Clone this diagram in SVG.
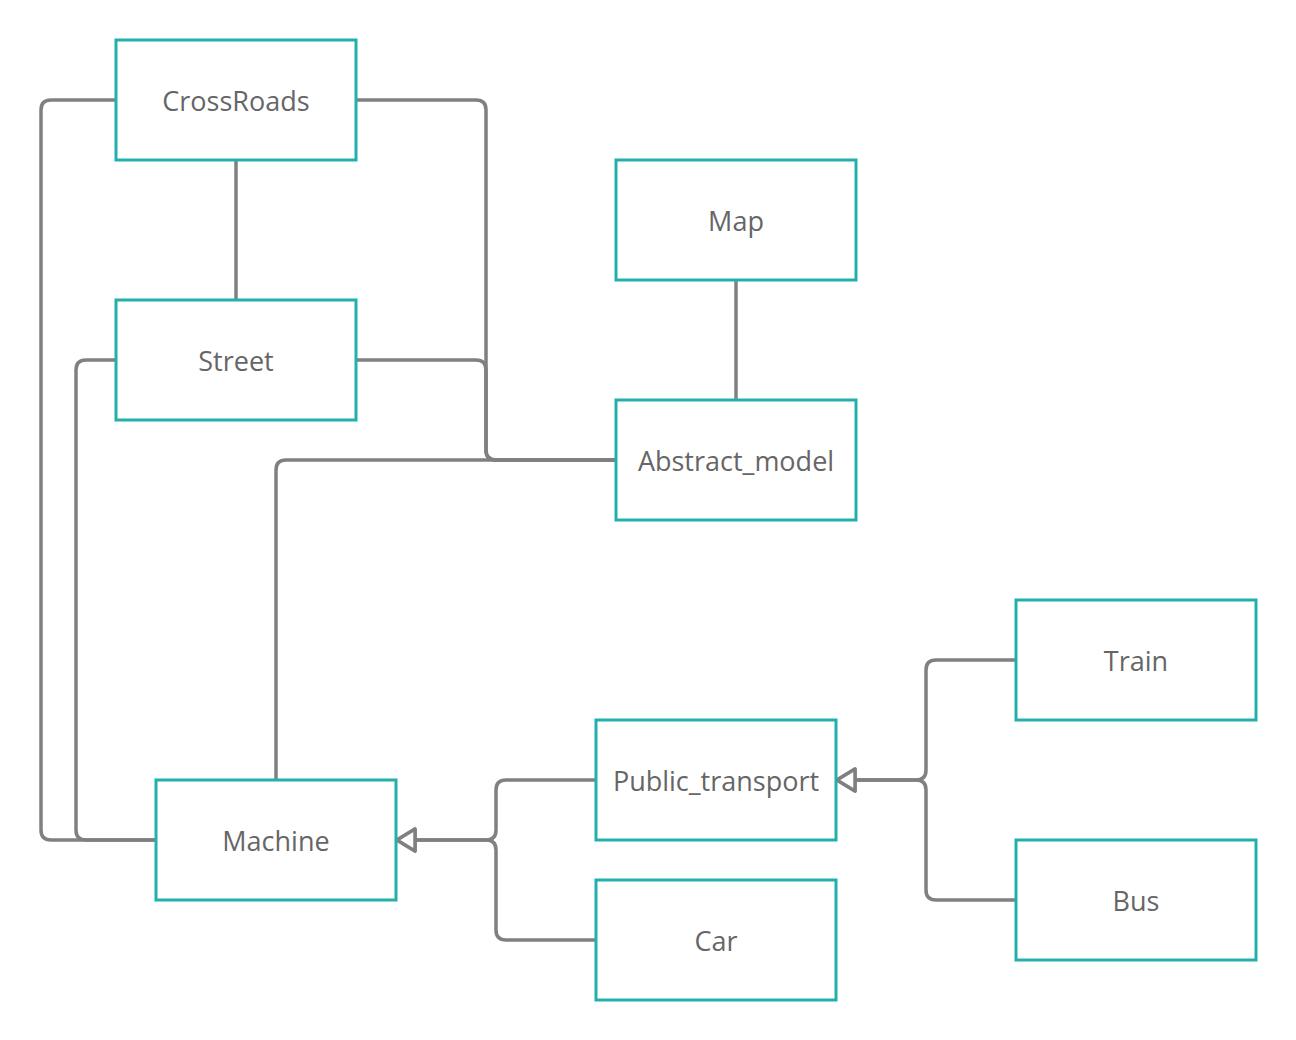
<svg xmlns="http://www.w3.org/2000/svg" width="1296" height="1040" viewBox="0 0 1296 1040">
<style>
.box{fill:#fff;stroke:#22b0ac;stroke-width:3}
.lbl{font-family:"Open Sans",sans-serif;font-size:27px;fill:#666;text-anchor:middle}
.c{fill:none;stroke:#808080;stroke-width:3.5;stroke-linejoin:round}
</style>
<defs>
<marker id="tri" markerUnits="userSpaceOnUse" markerWidth="28" markerHeight="28" refX="24" refY="14" orient="auto" viewBox="0 0 28 28">
<path d="M24,14 L6,3 L6,25 Z" fill="#fff" stroke="#808080" stroke-width="3.5" stroke-linejoin="round"/>
</marker>
</defs>
<rect width="1296" height="1040" fill="#fff"/>
<g id="connectors">
<path class="c" d="M116,100 H51 Q41,100 41,110 V830 Q41,840 51,840 H156"/>
<path class="c" d="M116,360 H86 Q76,360 76,370 V830 Q76,840 86,840 H156"/>
<path class="c" d="M356,100 H476 Q486,100 486,110 V450 Q486,460 496,460 H616"/>
<path class="c" d="M356,360 H476 Q486,360 486,370 V450 Q486,460 496,460 H616"/>
<path class="c" d="M276,780 V470 Q276,460 286,460 H616"/>
<path class="c" d="M236,160 V300"/>
<path class="c" d="M736,280 V400"/>
<path class="c" d="M596,780 H506 Q496,780 496,790 V830 Q496,840 486,840 H397" marker-end="url(#tri)"/>
<path class="c" d="M596,940 H506 Q496,940 496,930 V850 Q496,840 486,840 H397" marker-end="url(#tri)"/>
<path class="c" d="M1016,660 H936 Q926,660 926,670 V770 Q926,780 916,780 H837" marker-end="url(#tri)"/>
<path class="c" d="M1016,900 H936 Q926,900 926,890 V790 Q926,780 916,780 H837" marker-end="url(#tri)"/>
</g>
<g id="crossroads"><rect class="box" x="116" y="40" width="240" height="120"/><text class="lbl" x="236" y="111">CrossRoads</text></g>
<g id="street"><rect class="box" x="116" y="300" width="240" height="120"/><text class="lbl" x="236" y="371">Street</text></g>
<g id="map"><rect class="box" x="616" y="160" width="240" height="120"/><text class="lbl" x="736" y="231">Map</text></g>
<g id="abstract_model"><rect class="box" x="616" y="400" width="240" height="120"/><text class="lbl" x="736" y="471">Abstract_model</text></g>
<g id="train"><rect class="box" x="1016" y="600" width="240" height="120"/><text class="lbl" x="1136" y="671">Train</text></g>
<g id="public_transport"><rect class="box" x="596" y="720" width="240" height="120"/><text class="lbl" x="716" y="791">Public_transport</text></g>
<g id="machine"><rect class="box" x="156" y="780" width="240" height="120"/><text class="lbl" x="276" y="851">Machine</text></g>
<g id="car"><rect class="box" x="596" y="880" width="240" height="120"/><text class="lbl" x="716" y="951">Car</text></g>
<g id="bus"><rect class="box" x="1016" y="840" width="240" height="120"/><text class="lbl" x="1136" y="911">Bus</text></g>
</svg>
